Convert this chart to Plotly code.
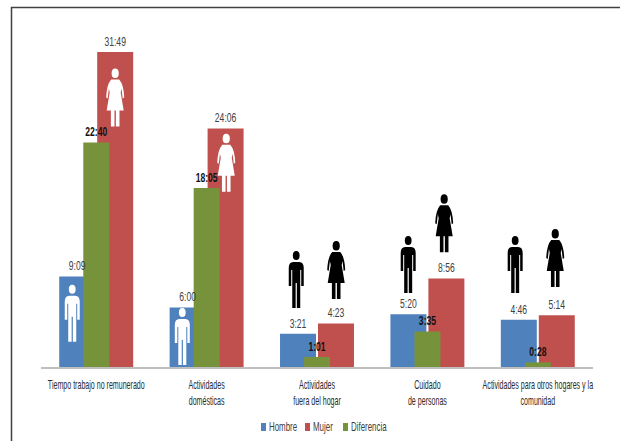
import plotly.graph_objects as go

categorias = [
    "Tiempo trabajo no remunerado",
    "Actividades<br>domésticas",
    "Actividades<br>fuera del hogar",
    "Cuidado<br>de personas",
    "Actividades para otros hogares y la<br>comunidad",
]
hombre = ["9:09", "6:00", "3:21", "5:20", "4:46"]
mujer = ["31:49", "24:06", "4:23", "8:56", "5:14"]
diferencia = ["22:40", "18:05", "1:01", "3:35", "0:28"]

AZUL = "#4F81BD"
ROJO = "#C0504D"
VERDE = "#76933C"
FUENTE = "Liberation Sans, Arial, sans-serif"
ANCHO_W, ALTO_H = 620, 441


def horas(texto):
    h, m = texto.split(":")
    return int(h) + int(m) / 60


# Silhouettes in pixels, anchored at the foot of each figure, y measured upward.
HOMBRE_PATH = (
    "M-4,0 L-0.6,0 L-0.6,25 L0.6,25 L0.6,0 L4,0 L4,38 L5,38 L5,22 L7.5,22 L7.5,40 "
    "Q7.5,46 3,46 L-3,46 Q-7.5,46 -7.5,40 L-7.5,22 L-5,22 L-5,38 L-4,38 Z "
    "M0,57 Q3.4,57 3.4,52.5 Q3.4,48 0,48 Q-3.4,48 -3.4,52.5 Q-3.4,57 0,57 Z"
)
MUJER_PATH = (
    "M-4.3,0 L-0.7,0 L-0.7,16 L0.7,16 L0.7,0 L4.3,0 L4.3,16 L8.5,16 L5.5,34 L6.3,38 "
    "L7.5,28 L9,29 Q8.5,42 4,47 L-4,47 Q-8.5,42 -9,29 L-7.5,28 L-6.3,38 L-5.5,34 "
    "L-8.5,16 L-4.3,16 Z "
    "M0,58 Q3.6,58 3.6,53 Q3.6,48.5 0,48.5 Q-3.6,48.5 -3.6,53 Q-3.6,58 0,58 Z"
)

# (category index, offset from its centre, foot height in hours, silhouette, colour)
figuras = [
    (0, -0.217, 2.56, HOMBRE_PATH, "white"),
    (1, -0.220, 0.2, HOMBRE_PATH, "white"),
    (2, -0.188, 5.96, HOMBRE_PATH, "black"),
    (3, -0.174, 7.47, HOMBRE_PATH, "black"),
    (4, -0.205, 7.47, HOMBRE_PATH, "black"),
    (0, 0.172, 24.3, MUJER_PATH, "white"),
    (1, 0.178, 17.7, MUJER_PATH, "white"),
    (2, 0.174, 6.87, MUJER_PATH, "black"),
    (3, 0.152, 11.6, MUJER_PATH, "black"),
    (4, 0.158, 8.08, MUJER_PATH, "black"),
]

series = [
    ("Hombre", hombre, AZUL, 0.326, -0.335),
    ("Mujer", mujer, ROJO, 0.326, 0.009),
    ("Diferencia", diferencia, VERDE, 0.235, -0.117),
]
posiciones = list(range(len(categorias)))

fig = go.Figure()
for nombre, valores, color, ancho, desfase in series:
    fig.add_bar(
        name=nombre,
        x=posiciones,
        y=[horas(v) for v in valores],
        width=ancho,
        offset=desfase,
        marker=dict(color=color, line=dict(width=0)),
        hoverinfo="skip",
    )

# Value labels sit in their own traces so that they stay above every bar.
for nombre, valores, color, ancho, desfase in series:
    negrita = nombre == "Diferencia"
    fig.add_scatter(
        x=[p + desfase + ancho / 2 for p in posiciones],
        y=[horas(v) for v in valores],
        mode="text",
        text=[f"<b>{v}</b>" if negrita else v for v in valores],
        textposition="top center",
        textfont=dict(family=FUENTE, size=13, color="#111111" if negrita else "#404040"),
        cliponaxis=False,
        showlegend=False,
        hoverinfo="skip",
    )

shapes = [
    dict(
        type="rect", xref="paper", yref="paper",
        x0=11.5 / ANCHO_W, x1=1.2, y0=-0.2, y1=1 - 7.5 / ALTO_H,
        line=dict(color="#404040", width=1.5), layer="below",
    )
]
for cat, dx, base, trazo, color in figuras:
    shapes.append(
        dict(
            type="path", xref="x", yref="y",
            xsizemode="pixel", ysizemode="pixel",
            xanchor=cat + dx, yanchor=base,
            path=trazo, fillcolor=color, line=dict(width=0),
            layer="above",
        )
    )

# Hand-placed key: swatch left edge and text start, in pixels.
leyenda = [("Hombre", AZUL, 261, 268), ("Mujer", ROJO, 305, 312), ("Diferencia", VERDE, 343, 350)]
anotaciones = []
for nombre, color, xs, xt in leyenda:
    shapes.append(
        dict(
            type="rect", xref="paper", yref="paper",
            x0=xs / ANCHO_W, x1=(xs + 5) / ANCHO_W,
            y0=1 - 431 / ALTO_H, y1=1 - 423 / ALTO_H,
            fillcolor=color, line=dict(width=0),
        )
    )
    anotaciones.append(
        dict(
            text=nombre, xref="paper", yref="paper",
            x=xt / ANCHO_W, y=1 - 427 / ALTO_H,
            xanchor="left", yanchor="middle", showarrow=False,
            borderpad=0,
            font=dict(family=FUENTE, size=12, color="#404040"),
        )
    )

fig.update_layout(
    width=ANCHO_W, height=ALTO_H,
    margin=dict(l=0, r=0, t=0, b=0, autoexpand=False),
    paper_bgcolor="white", plot_bgcolor="white",
    barmode="overlay",
    shapes=shapes,
    annotations=anotaciones,
    showlegend=False,
    xaxis=dict(
        domain=[41 / ANCHO_W, 593 / ANCHO_W],
        range=[-0.5, 4.5],
        tickmode="array",
        tickvals=posiciones,
        ticktext=categorias,
        tickangle=0,
        ticks="",
        automargin=False,
        ticklabeloverflow="allow",
        ticklabelstandoff=6,
        tickfont=dict(family=FUENTE, size=12, color="#2b2b2b"),
        showgrid=False, zeroline=False,
        showline=True, linecolor="#BFBFBF", linewidth=1.5,
        anchor="y",
    ),
    yaxis=dict(
        domain=[1 - 367 / ALTO_H, 1 - 7 / ALTO_H],
        range=[0, 360 / 9.9],
        visible=False,
        fixedrange=True,
    ),
)

# Narrow the labels horizontally, since no condensed face is installed.
CONDENSAR = """
function condensar(sel, escala, izquierda, subir) {
  document.querySelectorAll(sel).forEach(function (t) {
    var b = t.getBBox();
    var cx = izquierda ? b.x : b.x + b.width / 2;
    var previo = t.getAttribute('transform') || '';
    t.setAttribute('transform', previo + ' translate(' + cx + ',' + (-subir) + ') scale(' + escala + ',1) translate(' + (-cx) + ',0)');
  });
}
condensar('.xtick text', 0.59, false, 0);
condensar('.textpoint text', 0.66, false, 3);
condensar('.annotation-text', 0.66, true, 0);
"""

fig.write_html("out.html", post_script=CONDENSAR)
